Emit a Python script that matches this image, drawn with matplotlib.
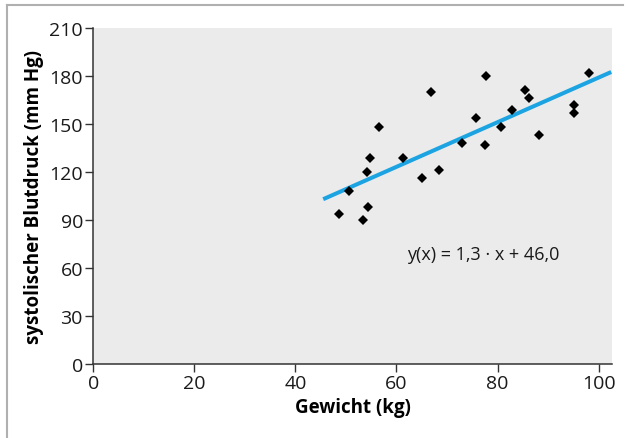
import numpy as np
import matplotlib.pyplot as plt
from matplotlib.lines import Line2D

plt.rcParams['font.family'] = ['Open Sans', 'DejaVu Sans']

# Gewicht (kg) und systolischer Blutdruck (mm Hg)
weight = [48.6, 50.6, 53.4, 54.4, 54.1, 54.7, 56.6, 61.3, 65.1, 66.9, 68.4, 72.9,
          75.8, 77.8, 77.5, 80.7, 82.8, 85.5, 86.2, 88.3, 95.2, 95.2, 98.1]
pressure = [94, 108, 90, 98, 120, 129, 148, 129, 116, 170, 121, 138,
            154, 180, 137, 148, 159, 171, 166, 143, 162, 157, 182]

# Regressionsgerade (Endpunkte wie gezeichnet)
fit_x = [45.5, 102.5]
fit_y = [103, 182.5]

x_ticks = [0, 20, 40, 60, 80, 100]
y_ticks = [0, 30, 60, 90, 120, 150, 180, 210]

fig = plt.figure(figsize=(6.28, 4.39), dpi=100)
ax = fig.add_axes([93.3 / 628, 1 - 365 / 439, (611.7 - 93.3) / 628, (365 - 29) / 439])
ax.set_facecolor('#ebebeb')

ax.plot(fit_x, fit_y, color='#1ca4e2', lw=2.9, solid_capstyle='butt', zorder=2)
ax.plot(weight, pressure, 'D', color='black', ms=5.6, mew=0, zorder=3)

ax.text(62.0, 68.5, 'y(x) = 1,3 · x + 46,0', fontsize=13, va='center', ha='left', color='#1a1a1a')

ax.set_xlim(0, 102.6)
ax.set_ylim(0, 210)
ax.set_xticks(x_ticks)
ax.set_yticks(y_ticks)
ax.tick_params(labelsize=14, length=6, width=1, color='#333333', labelcolor='#1a1a1a', pad=1.5)
for s in ['top', 'right']:
    ax.spines[s].set_visible(False)
for s in ['left', 'bottom']:
    ax.spines[s].set_color('#333333')
    ax.spines[s].set_linewidth(1.1)

ax.set_xlabel('Gewicht (kg)', fontsize=13.5, fontweight='bold', labelpad=3)
ax.set_ylabel('systolischer Blutdruck (mm Hg)', fontsize=13.5, fontweight='bold', labelpad=4)

# grauer Rahmen (oben und links)
fig.add_artist(Line2D([7 / 628, 623 / 628], [1 - 6 / 439, 1 - 6 / 439],
                      transform=fig.transFigure, color='#b0b0b0', lw=1.5))
fig.add_artist(Line2D([7 / 628, 7 / 628], [0, 1 - 6 / 439],
                      transform=fig.transFigure, color='#b0b0b0', lw=1.5))

fig.savefig('out.png', dpi=100)
